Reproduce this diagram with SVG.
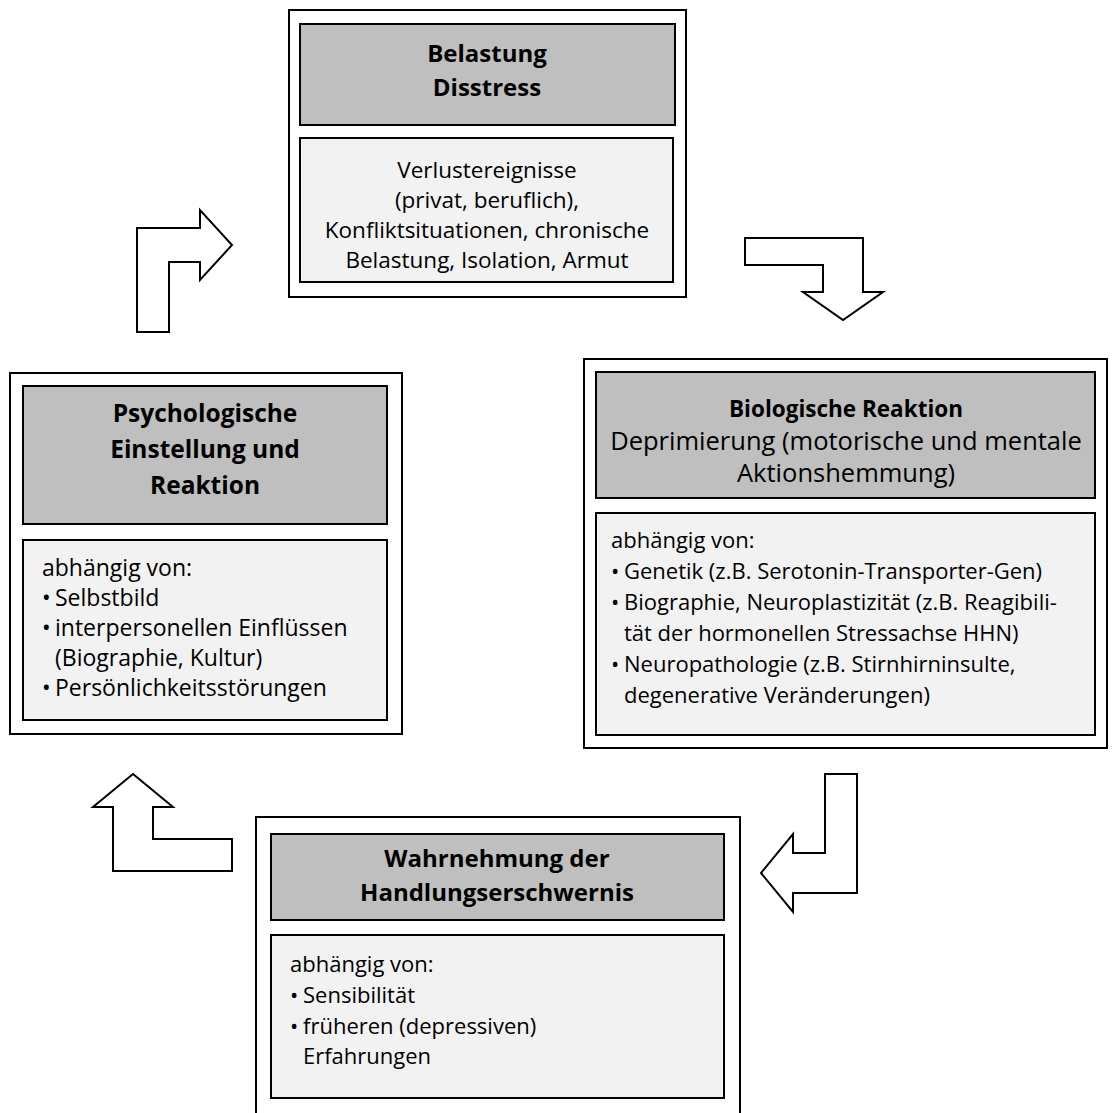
<svg xmlns="http://www.w3.org/2000/svg" width="1117" height="1113" viewBox="0 0 1117 1113">
<style>
.frame{fill:#fff;stroke:#000;stroke-width:2}
.head{fill:#bfbfbf;stroke:#000;stroke-width:2}
.body{fill:#f2f2f2;stroke:#000;stroke-width:2}
.arrow{fill:#fff;stroke:#000;stroke-width:2;stroke-linejoin:miter}
text{font-family:"Open Sans","Noto Sans","Liberation Sans",sans-serif;font-size:22.5px;fill:#000}
.b{font-weight:bold;font-size:24px}
.c{text-anchor:middle}
.s{font-size:22px}
.l{font-size:23px}
</style>
<rect width="1117" height="1113" fill="#fff"/>
<g id="connectors">
<polygon class="arrow" points="137,332 137,228 200,228 200,210 232,245 200,280 200,262 169,262 169,332"/>
<polygon class="arrow" points="745,238 863,238 863,292 883,292 843,320 803,292 823,292 823,265 745,265"/>
<polygon class="arrow" points="825,774 857,774 857,893 793,893 793,912 761,873 793,834 793,853 825,853"/>
<polygon class="arrow" points="133,774 173,807 153,807 153,839 232,839 232,871 113,871 113,807 93,807"/>
</g>
<g id="belastung">
<rect class="frame" x="289" y="10" width="397" height="287"/>
<rect class="head" x="300" y="24" width="375" height="101"/>
<rect class="body" x="300" y="138" width="373" height="144"/>
<text class="b c" x="487" y="62">Belastung</text>
<text class="b c" x="487" y="96">Disstress</text>
<text class="c" x="487" y="178">Verlustereignisse</text>
<text class="c" x="487" y="208">(privat, beruflich),</text>
<text class="c" x="487" y="238">Konfliktsituationen, chronische</text>
<text class="c" x="487" y="268">Belastung, Isolation, Armut</text>
</g>
<g id="biologisch">
<rect class="frame" x="584" y="359" width="523" height="389"/>
<rect class="head" x="596" y="372" width="499" height="126"/>
<rect class="body" x="596" y="513" width="499" height="222"/>
<text class="b c" x="846" y="417" style="font-size:22.5px">Biologische Reaktion</text>
<text class="c" x="846" y="450" style="font-size:25.5px">Deprimierung (motorische und mentale</text>
<text class="c" x="846" y="482" style="font-size:25.5px">Aktionshemmung)</text>
<text class="s" x="611" y="548">abhängig von:</text>
<text class="s" x="611" y="579">•</text><text class="s" x="624" y="579">Genetik (z.B. Serotonin-Transporter-Gen)</text>
<text class="s" x="611" y="610">•</text><text class="s" x="624" y="610">Biographie, Neuroplastizität (z.B. Reagibili-</text>
<text class="s" x="624" y="641">tät der hormonellen Stressachse HHN)</text>
<text class="s" x="611" y="672">•</text><text class="s" x="624" y="672">Neuropathologie (z.B. Stirnhirninsulte,</text>
<text class="s" x="624" y="703">degenerative Veränderungen)</text>
</g>
<g id="wahrnehmung">
<rect class="frame" x="256" y="817" width="484" height="310"/>
<rect class="head" x="271" y="834" width="453" height="86"/>
<rect class="body" x="271" y="935" width="453" height="163"/>
<text class="b c" x="497" y="867">Wahrnehmung der</text>
<text class="b c" x="497" y="901">Handlungserschwernis</text>
<text class="s" x="290" y="972">abhängig von:</text>
<text class="s" x="290" y="1003">•</text><text class="s" x="303" y="1003">Sensibilität</text>
<text class="s" x="290" y="1034">•</text><text class="s" x="303" y="1034">früheren (depressiven)</text>
<text class="s" x="303" y="1064">Erfahrungen</text>
</g>
<g id="psychologisch">
<rect class="frame" x="10" y="373" width="392" height="361"/>
<rect class="head" x="23" y="386" width="364" height="138"/>
<rect class="body" x="23" y="540" width="364" height="180"/>
<text class="b c" x="205" y="422" style="font-size:24.5px">Psychologische</text>
<text class="b c" x="205" y="458" style="font-size:24.5px">Einstellung und</text>
<text class="b c" x="205" y="494" style="font-size:24.5px">Reaktion</text>
<text class="l" x="42" y="576">abhängig von:</text>
<text class="l" x="42" y="606">•</text><text class="l" x="55" y="606">Selbstbild</text>
<text class="l" x="42" y="636">•</text><text class="l" x="55" y="636">interpersonellen Einflüssen</text>
<text class="l" x="55" y="666">(Biographie, Kultur)</text>
<text class="l" x="42" y="696">•</text><text class="l" x="55" y="696">Persönlichkeitsstörungen</text>
</g>
</svg>
